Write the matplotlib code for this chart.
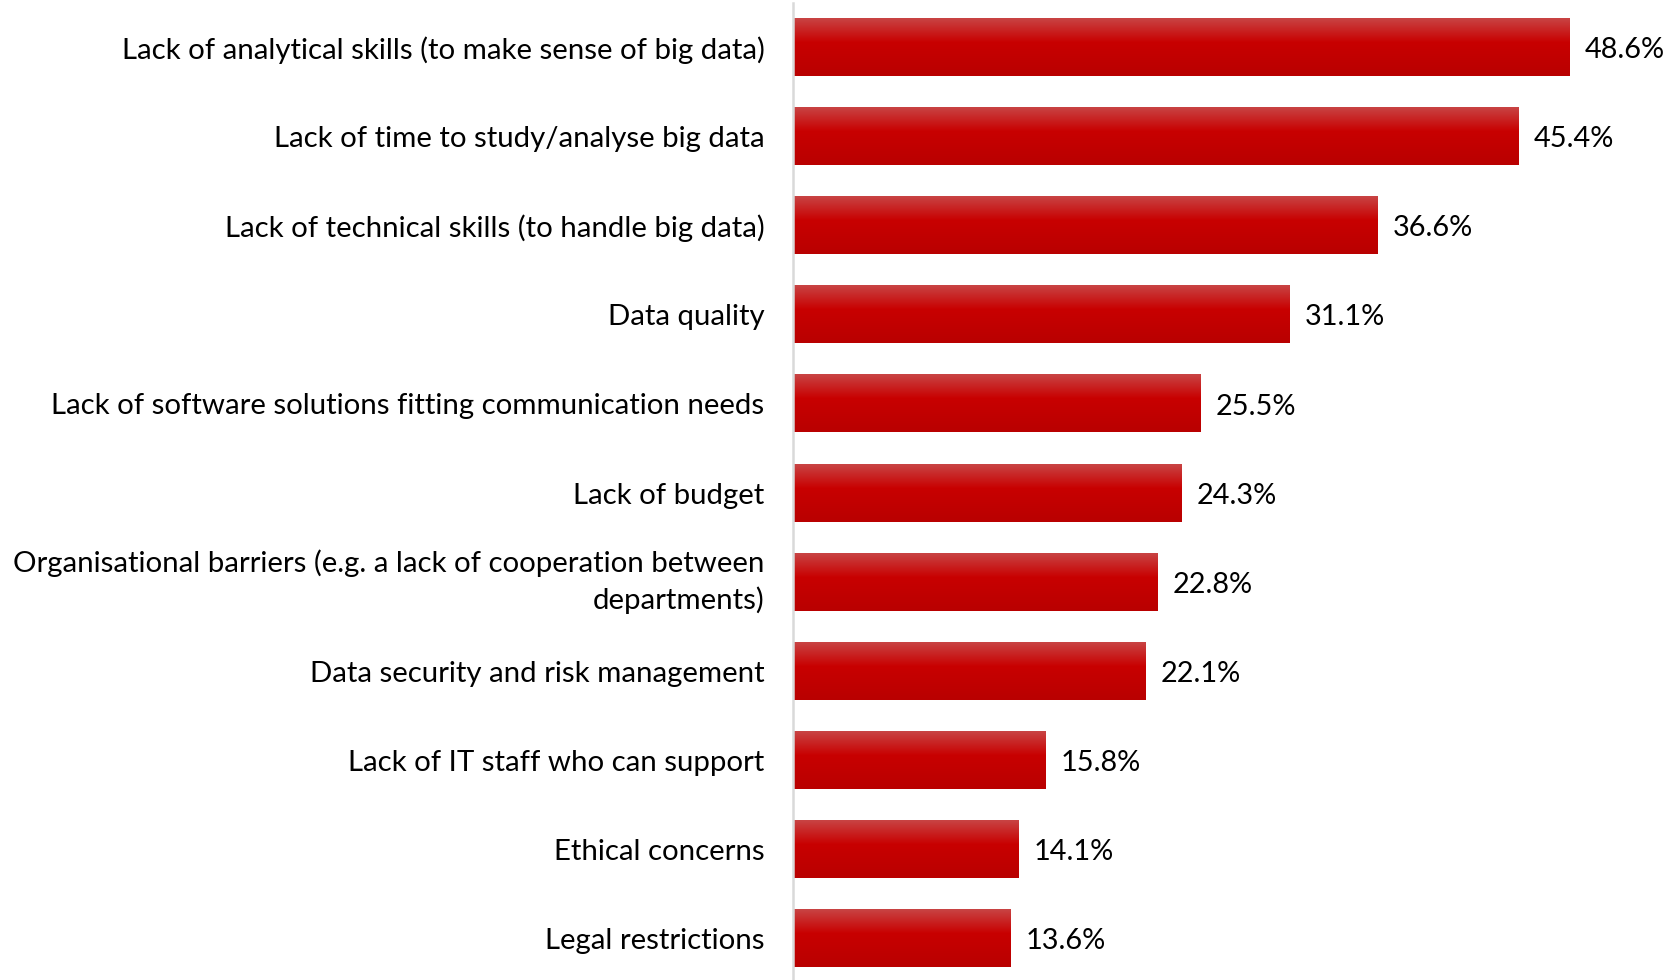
import numpy as np
import matplotlib
matplotlib.use("Agg")
import matplotlib.pyplot as plt
from matplotlib.colors import LinearSegmentedColormap

categories = [
    "Lack of analytical skills (to make sense of big data)",
    "Lack of time to study/analyse big data",
    "Lack of technical skills (to handle big data)",
    "Data quality",
    "Lack of software solutions fitting communication needs",
    "Lack of budget",
    "Organisational barriers (e.g. a lack of cooperation between\ndepartments)",
    "Data security and risk management",
    "Lack of IT staff who can support",
    "Ethical concerns",
    "Legal restrictions",
]
values = [48.6, 45.4, 36.6, 31.1, 25.5, 24.3, 22.8, 22.1, 15.8, 14.1, 13.6]
value_labels = ["48.6%", "45.4%", "36.6%", "31.1%", "25.5%", "24.3%",
                "22.8%", "22.1%", "15.8%", "14.1%", "13.6%"]

plt.rcParams["font.family"] = ["Lato", "DejaVu Sans"]
FS = 21.2
FS_VAL = 20.8

W, H = 1665, 980
fig = plt.figure(figsize=(W / 100, H / 100), dpi=100)
left = 793 / W
width = 50 * 15.97 / W
ax = fig.add_axes([left, -3 / H, width, 980 / H])

y = np.arange(len(categories))
bar_h = 0.64
bars = ax.barh(y, values, height=bar_h, color="#c00000", zorder=2)

# vertical gradient fill: lighter top edge, deep red body, darker base
grad_cmap = LinearSegmentedColormap.from_list(
    "redgrad", [(0.0, "#c94444"), (0.42, "#c80000"), (1.0, "#b90000")])
grad = np.linspace(0, 1, 256).reshape(-1, 1)
for rect in bars:
    x0, y0 = rect.get_x(), rect.get_y()
    w, h = rect.get_width(), rect.get_height()
    # y axis is inverted, so the image's first row sits at the bar's top edge
    ax.imshow(grad, cmap=grad_cmap, aspect="auto", zorder=3, origin="upper",
              extent=(x0, x0 + w, y0 + h, y0), interpolation="bicubic")

for yi, v, lab in zip(y, values, value_labels):
    ax.text(v + 0.95, yi + 0.03, lab, va="center", ha="left", fontsize=FS_VAL,
            color="#000000")

ax.set_xlim(0, 50)
ax.set_ylim(len(categories) - 0.5, -0.5)
ax.set_yticks(y)
ax.set_yticklabels(categories, fontsize=FS, color="#000000",
                   linespacing=1.42)
for t in ax.get_yticklabels():
    if "\n" in t.get_text():
        t.set_verticalalignment("center")
ax.tick_params(axis="y", length=0, pad=20.5)
ax.set_xticks([])
for s in ["top", "right", "bottom"]:
    ax.spines[s].set_visible(False)
ax.spines["left"].set_color("#d9d9d9")
ax.spines["left"].set_linewidth(1.8)
ax.spines["left"].set_zorder(4)
ax.patch.set_alpha(0)

fig.savefig("out.png", dpi=100, facecolor="white")
